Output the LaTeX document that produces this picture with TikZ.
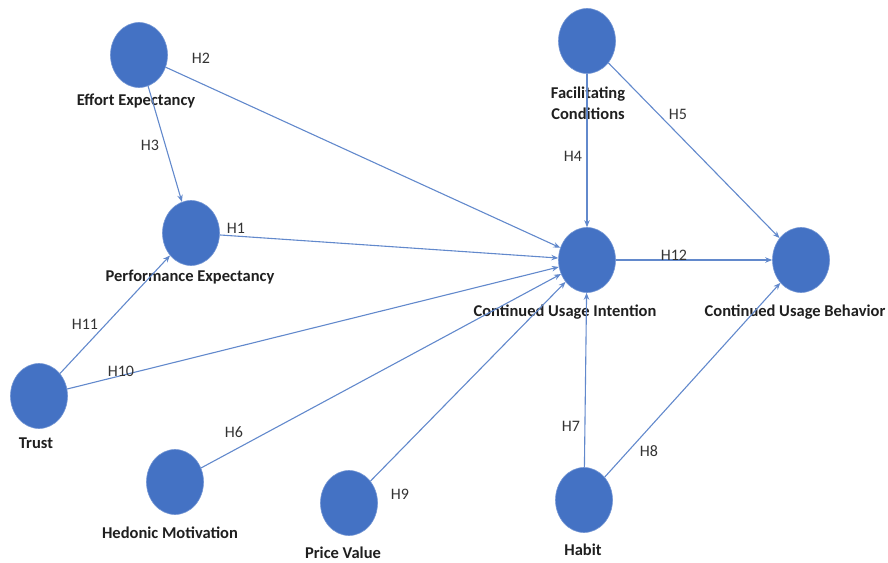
\documentclass[tikz,border=0pt]{standalone}
\usepackage{fontspec}
\setmainfont{Carlito}
\usetikzlibrary{positioning,shapes.geometric,arrows.meta}
\definecolor{circblue}{HTML}{4472C4}
\definecolor{lineblue}{HTML}{6289CC}

\begin{document}
\begin{tikzpicture}[x=1pt,y=1pt,
    construct/.style={ellipse,fill=circblue,draw=circblue!75!white,line width=0.6pt,
      minimum width=57pt,minimum height=65pt,inner sep=0pt,on grid},
    caption/.style={font=\fontsize{16.5}{17}\selectfont\bfseries,text=black!88,
      inner sep=0pt,anchor=base,align=center},
    hyp/.style={font=\fontsize{16}{17}\selectfont,text=black!80,inner sep=0pt},
    link/.style={draw=lineblue,line width=1.1pt,-{Stealth[length=7pt,width=5.5pt]}}]
  \useasboundingbox (0,0) rectangle (888,562);

  % constructs
  \node[construct] (cui) at (587,302) {};
  \node[construct, above=219pt of cui] (fc) {};
  \node[construct, right=214pt of cui] (cub) {};
  \node[construct, above left=205pt and 448pt of cui] (ee) {};
  \node[construct, above left=27pt and 396pt of cui] (pe) {};
  \node[construct, below left=136pt and 548pt of cui] (tr) {};
  \node[construct, below left=222pt and 412pt of cui] (hm) {};
  \node[construct, below left=243pt and 238pt of cui] (pv) {};
  \node[construct, below left=240pt and 3pt of cui] (hb) {};

  % construct names
  \node[caption] (eel) at ([shift={(-3pt,-51pt)}]ee.center) {Effort Expectancy};
  \node[caption] (fcl) at ([shift={(1pt,-79pt)}]fc.center) {Facilitating\\[4pt]Conditions};
  \node[caption] (pel) at ([shift={(-1pt,-49pt)}]pe.center) {Performance Expectancy};
  \node[caption] (cuil) at ([shift={(-22pt,-57pt)}]cui.center) {Continued Usage Intention};
  \node[caption] (cubl) at ([shift={(-6pt,-57pt)}]cub.center) {Continued Usage Behavior};
  \node[caption] (trl) at ([shift={(-3pt,-53pt)}]tr.center) {Trust};
  \node[caption] (hml) at ([shift={(-5pt,-56pt)}]hm.center) {Hedonic Motivation};
  \node[caption] (pvl) at ([shift={(-6pt,-55pt)}]pv.center) {Price Value};
  \node[caption] (hbl) at ([shift={(-1pt,-55pt)}]hb.center) {Habit};

  % paths
  \draw[link] (pe) -- (cui);
  \draw[link] (ee) -- (cui);
  \draw[link] (ee) -- (pe);
  \draw[link] (fc) -- (cui);
  \draw[link] (fc) -- (cub);
  \draw[link] (hm) -- (cui);
  \draw[link] (hb) -- (cui);
  \draw[link] (hb) -- (cub);
  \draw[link] (pv) -- (cui);
  \draw[link] (tr) -- (cui);
  \draw[link] (tr) -- (pe);
  \draw[link] (cui) -- (cub);

  % hypotheses
  \node[hyp] (h1) at (236,334) {H1};
  \node[hyp] (h2) at (201,504) {H2};
  \node[hyp] (h3) at (150,417) {H3};
  \node[hyp] (h4) at (573,406) {H4};
  \node[hyp] (h5) at (678,448) {H5};
  \node[hyp] (h6) at (234,130) {H6};
  \node[hyp] (h7) at (571,136) {H7};
  \node[hyp] (h8) at (649,111) {H8};
  \node[hyp] (h9) at (400,68) {H9};
  \node[hyp] (h10) at (121,191) {H10};
  \node[hyp] (h11) at (85,238) {H11};
  \node[hyp] (h12) at (674,307) {H12};
\end{tikzpicture}
\end{document}
